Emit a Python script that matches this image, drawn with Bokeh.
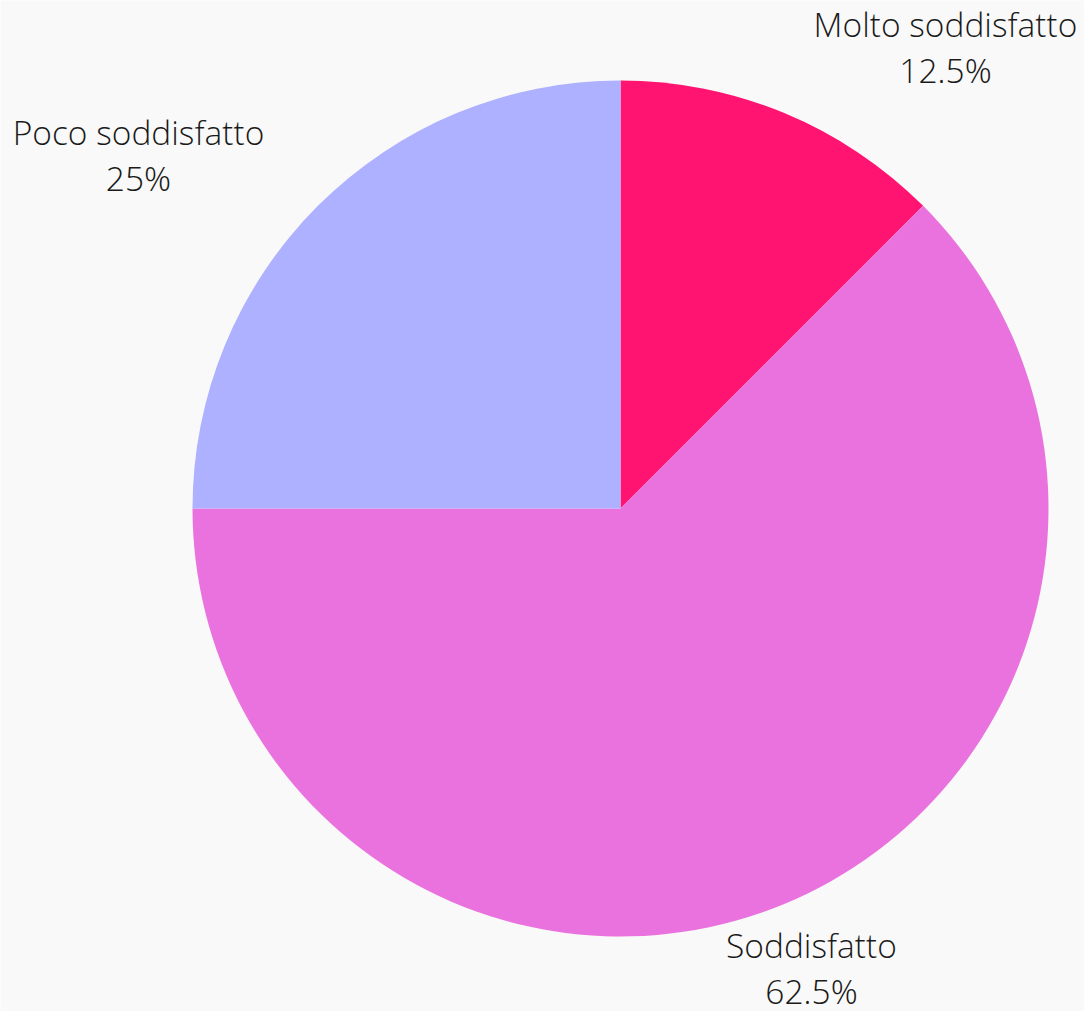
import math
from bokeh.plotting import figure
from bokeh.models import ColumnDataSource, Range1d
from bokeh.core.properties import value
from bokeh.embed import file_html
from bokeh.resources import INLINE

# Data
categories = ["Molto soddisfatto", "Soddisfatto", "Poco soddisfatto"]
shares = [12.5, 62.5, 25.0]
pct_labels = ["12.5%", "62.5%", "25%"]
colors = ["#FF1472", "#EA72DE", "#ADB1FF"]

W, H = 1084, 1011
p = figure(width=W, height=H, output_backend="svg", toolbar_location=None,
           x_range=Range1d(0, W), y_range=Range1d(-H, 0),
           min_border=0)
p.axis.visible = False
p.grid.visible = False
p.outline_line_color = None
p.background_fill_color = "#F9F9F9"
p.border_fill_color = "#F9F9F9"

cx, cy, R = 620, -508, 428
total = sum(shares)
starts, ends = [], []
acc = 0.0
for s in shares:
    a0 = math.pi / 2 - 2 * math.pi * acc / total
    acc += s
    a1 = math.pi / 2 - 2 * math.pi * acc / total
    starts.append(a0)
    ends.append(a1)

src = ColumnDataSource(dict(start=starts, end=ends, color=colors))
p.wedge(x=cx, y=cy, radius=R, start_angle="start", end_angle="end",
        direction="clock", fill_color="color", line_color=None, source=src)

# label layout (text centre, first line anchor)
label_pos = [(945, -23), (811, -944), (138, -131)]
lx = [q[0] for q in label_pos]
ly1 = [q[1] for q in label_pos]
ly2 = [q[1] - 46 for q in label_pos]
font = value("Open Sans Light, Open Sans")
p.text(x=lx, y=ly1, text=categories, text_align="center", text_baseline="alphabetic",
       text_font=font, text_font_size="33.5px", text_color="#1a1a1a")
p.text(x=lx, y=ly2, text=pct_labels, text_align="center", text_baseline="alphabetic",
       text_font=font, text_font_size="33.5px", text_color="#1a1a1a")

open("out.html", "w").write(file_html(p, INLINE))
